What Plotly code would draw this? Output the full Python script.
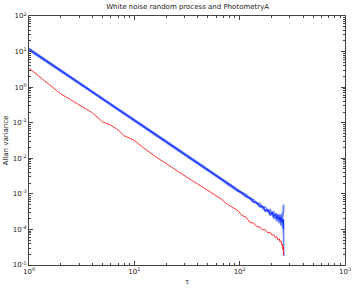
import plotly.graph_objects as go

tau = [1, 1.5, 2, 2.5, 3, 3.5, 4, 5, 6, 7, 8, 9, 10, 12, 14, 16, 19, 22, 26, 30,
       35, 40, 46, 53, 60, 68, 77, 86, 95, 105, 115, 125, 135, 145, 155, 165, 175,
       185, 195, 203, 211, 218, 225, 231, 237, 242, 247, 251, 255, 258, 260, 261, 262]

blue_a = [12.3, 5.4, 3.05, 1.95, 1.36, 0.99, 0.76, 0.49, 0.338, 0.25, 0.192, 0.151,
          0.122, 0.086, 0.0625, 0.048, 0.0342, 0.0255, 0.0182, 0.0138, 0.0101, 0.0078,
          0.0059, 0.0044, 0.00340, 0.00262, 0.00208, 0.00165, 0.00138, 0.00109, 0.00097,
          0.00075, 0.00070, 0.00054, 0.00054, 0.00041, 0.00043, 0.00032, 0.00036, 0.00026,
          0.00032, 0.00023, 0.00029, 0.00020, 0.00027, 0.00019, 0.00027, 0.00019, 0.00031,
          0.00022, 0.00046, 0.00030, 0.00050]
blue_b = [11.6, 5.15, 2.9, 1.86, 1.29, 0.95, 0.73, 0.465, 0.324, 0.236, 0.181, 0.146,
          0.115, 0.0805, 0.0595, 0.0452, 0.0318, 0.0240, 0.0171, 0.0129, 0.0094, 0.0072,
          0.0054, 0.0041, 0.00315, 0.00252, 0.00190, 0.00158, 0.00123, 0.00108, 0.00083,
          0.00078, 0.00060, 0.00058, 0.00045, 0.00045, 0.00034, 0.00036, 0.00027, 0.00031,
          0.00023, 0.00027, 0.00020, 0.00025, 0.00018, 0.00023, 0.00016, 0.00022, 0.00015,
          0.00020, 0.00012, 0.00019, 0.00010]
blue_c = [10.9, 4.95, 2.8, 1.78, 1.24, 0.91, 0.70, 0.445, 0.31, 0.228, 0.175, 0.137,
          0.111, 0.077, 0.0565, 0.0435, 0.0308, 0.0228, 0.0163, 0.0122, 0.0090, 0.0069,
          0.0052, 0.0039, 0.00308, 0.00238, 0.00183, 0.00149, 0.00119, 0.00102, 0.00082,
          0.00073, 0.00058, 0.00055, 0.00043, 0.00041, 0.00032, 0.00033, 0.00025, 0.00027,
          0.00020, 0.00023, 0.00017, 0.00021, 0.00015, 0.00019, 0.00013, 0.00017, 0.00011,
          0.00014, 0.00007, 0.00010, 0.000018]
red = [3.4, 1.28, 0.65, 0.44, 0.32, 0.245, 0.19, 0.105, 0.085, 0.063, 0.043, 0.037,
       0.032, 0.0204, 0.0145, 0.011, 0.0079, 0.0059, 0.0043, 0.0032, 0.0024, 0.0019,
       0.00145, 0.00112, 0.00089, 0.00069, 0.0005, 0.00041, 0.00035, 0.00025, 0.00022,
       0.000158, 0.000152, 0.000120, 0.000118, 0.000097, 0.000099, 0.000080, 0.000083,
       0.000068, 0.000072, 0.000059, 0.000063, 0.000051, 0.000055, 0.000044, 0.000048,
       0.000036, 0.000039, 0.000027, 0.000033, 0.000022, 0.000019]

x_exps = [0, 1, 2, 3]
y_exps = [-5, -4, -3, -2, -1, 0, 1, 2]

fig = go.Figure()
for ys, col, w in [(blue_a, "rgba(60,90,255,0.75)", 1.6), (blue_c, "rgba(60,90,255,0.75)", 1.6),
                   (blue_b, "rgb(30,55,255)", 1.3)]:
    fig.add_trace(go.Scatter(x=tau, y=ys, mode="lines",
                             line=dict(color=col, width=w), showlegend=False))
fig.add_trace(go.Scatter(x=tau, y=red, mode="lines",
                         line=dict(color="rgb(255,30,30)", width=0.9), showlegend=False))

font = dict(family="DejaVu Sans, Arial", size=7, color="#222")

def minor_vals(exps):
    return [m * 10 ** e for e in exps[:-1] for m in range(2, 10)]

axis_common = dict(type="log", showgrid=False, zeroline=False, showline=True,
                   linecolor="#444", linewidth=1, mirror="ticks", ticks="inside",
                   ticklen=4, tickcolor="#444", tickfont=font, automargin=False)

fig.update_xaxes(**axis_common, range=[0, 3],
                 tickvals=[10 ** e for e in x_exps],
                 ticktext=[f"10<sup>{e}</sup>" for e in x_exps],
                 minor=dict(tickvals=minor_vals(x_exps), ticks="inside", ticklen=2,
                            tickcolor="#444"),
                 title=dict(text="τ", font=font, standoff=3))
fig.update_yaxes(**axis_common, range=[-5, 2],
                 tickvals=[10 ** e for e in y_exps],
                 ticktext=[f"10<sup>{e}</sup>" for e in y_exps],
                 minor=dict(tickvals=minor_vals(y_exps), ticks="inside", ticklen=2,
                            tickcolor="#444"),
                 title=dict(text="Allan variance", font=font, standoff=3))

fig.update_layout(width=354, height=290, margin=dict(l=29, r=9, t=16, b=25),
                  paper_bgcolor="white", plot_bgcolor="white", hovermode=False,
                  title=dict(text="White noise random process and PhotometryA",
                             font=font, x=0.53, xanchor="center", y=0.985, yanchor="top"))

fig.write_html("out.html", config={"displayModeBar": False},
               post_script="document.body.style.margin='0';document.body.style.padding='0';")
